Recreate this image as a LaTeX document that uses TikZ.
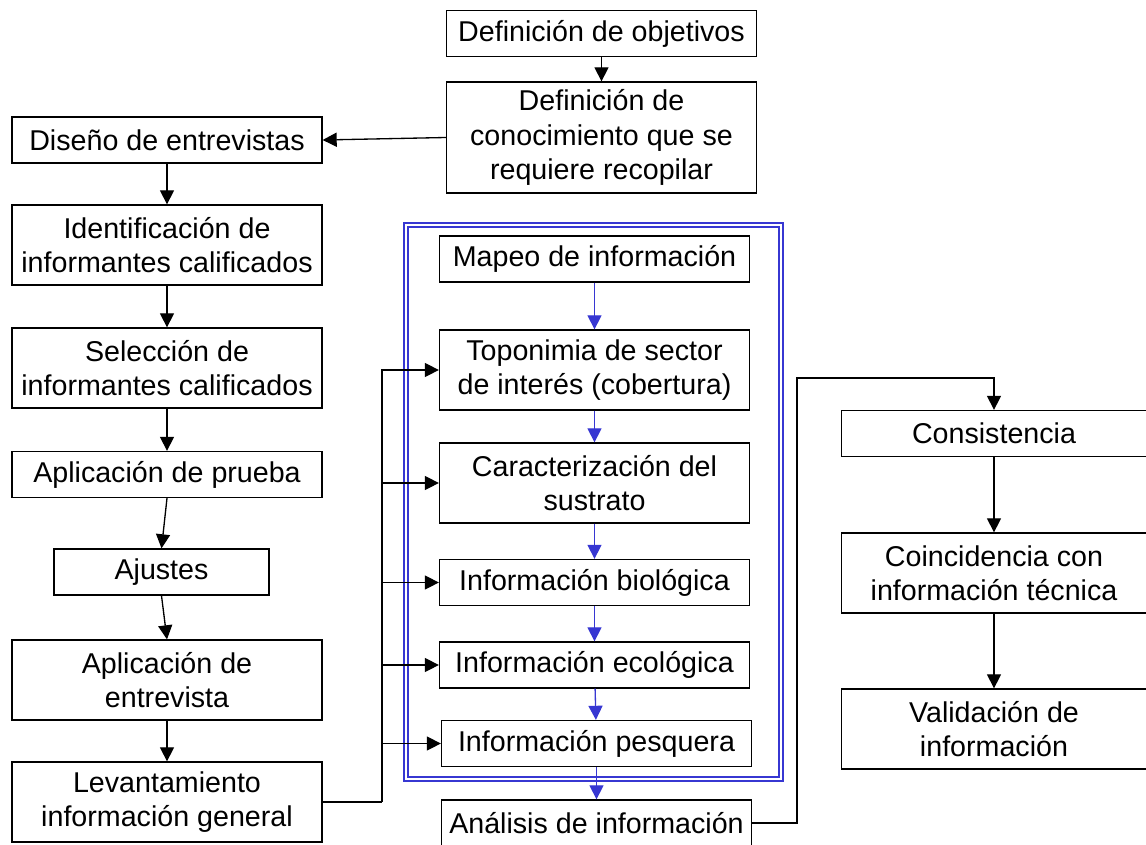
\documentclass[tikz,border=0pt]{standalone}
\usepackage{fontspec}
\setmainfont{Liberation Sans}
\usetikzlibrary{positioning,arrows.meta}
\definecolor{frameblue}{RGB}{55,55,210}

\begin{document}
\begin{tikzpicture}[x=0.02cm,y=-0.02cm,
box/.style={draw,rectangle,line width=0.75pt,align=center,inner sep=2pt,
    font=\fontsize{16.3}{19.4}\selectfont,minimum width=6.2cm,minimum height=0.92cm},
twoline/.style={minimum height=1.6cm},
arr/.style={-{Triangle[length=8pt,width=8pt]},line width=0.75pt},
bluearr/.style={arr,draw=frameblue,fill=frameblue}]
\useasboundingbox (0,0) rectangle (1146,845);

% marco azul
\draw [frameblue,line width=0.8pt,double,double distance=1.5pt] (406,225) rectangle (781,779);

\node (objetivos) [box] at (601.5,33.5) {Definición de objetivos};
\node (conocim) [box,minimum height=2.22cm] at (601.5,137.5)
    {Definición de\\conocimiento que se\\requiere recopilar};

% columna izquierda
\node (diseno) [box] at (167,140) {Diseño de entrevistas};
\node (identif) [box,twoline] at (167,245) {Identificación de\\informantes calificados};
\node (seleccion) [box,twoline] at (167,368) {Selección de\\informantes calificados};
\node (prueba) [box] at (167,474.5) {Aplicación de prueba};
\node (ajustes) [box,minimum width=4.3cm] at (161.5,572) {Ajustes};
\node (aplicacion) [box,twoline] at (167,680) {Aplicación de\\entrevista};
\node (levant) [box,twoline] at (167,802) {Levantamiento\\información general};

% dentro del marco
\node (mapeo) [box] at (594.5,259) {Mapeo de información};
\node (topon) [box,twoline] at (594.5,370) {Toponimia de sector\\de interés (cobertura)};
\node (caract) [box,twoline] at (594.5,483) {Caracterización del\\sustrato};
\node (biolog) [box] at (594.5,582.5) {Información biológica};
\node (ecolog) [box] at (594.5,665) {Información ecológica};
\node (pesq) [box] at (596.5,743.5) {Información pesquera};
\node (analisis) [box] at (596.5,823) {Análisis de información};

% columna derecha
\node (consist) [box,minimum width=6.1cm] at (994,433.5) {Consistencia};
\node (coinc) [box,twoline,minimum width=6.1cm] at (994,573) {Coincidencia con\\información técnica};
\node (valid) [box,twoline,minimum width=6.1cm] at (994,729) {Validación de\\información};

\coordinate (bus) at (382,802);
\coordinate (subida) at (797,378);

\draw [arr] (objetivos) -- (conocim);
\draw [arr] (conocim.west) -- (diseno.east);
\draw [arr] (diseno) -- (identif);
\draw [arr] (identif) -- (seleccion);
\draw [arr] (seleccion) -- (prueba);
\draw [arr] (prueba.south) -- (ajustes.north);
\draw [arr] (ajustes.south) -- (aplicacion.north);
\draw [arr] (aplicacion) -- (levant);

\draw [line width=0.75pt] (levant.east) -- (bus);
\draw [arr] (bus) |- (topon.west);
\draw [arr] (bus) |- (caract.west);
\draw [arr] (bus) |- (biolog.west);
\draw [arr] (bus) |- (ecolog.west);
\draw [arr] (bus) |- (pesq.west);

\draw [bluearr] (mapeo) -- (topon);
\draw [bluearr] (topon) -- (caract);
\draw [bluearr] (caract) -- (biolog);
\draw [bluearr] (biolog) -- (ecolog);
\draw [bluearr] (ecolog) -- (pesq);
\draw [bluearr] (pesq) -- (analisis);

\draw [arr] (analisis.east) -| (subida) -| (consist.north);
\draw [arr] (consist) -- (coinc);
\draw [arr] (coinc) -- (valid);
\end{tikzpicture}
\end{document}
